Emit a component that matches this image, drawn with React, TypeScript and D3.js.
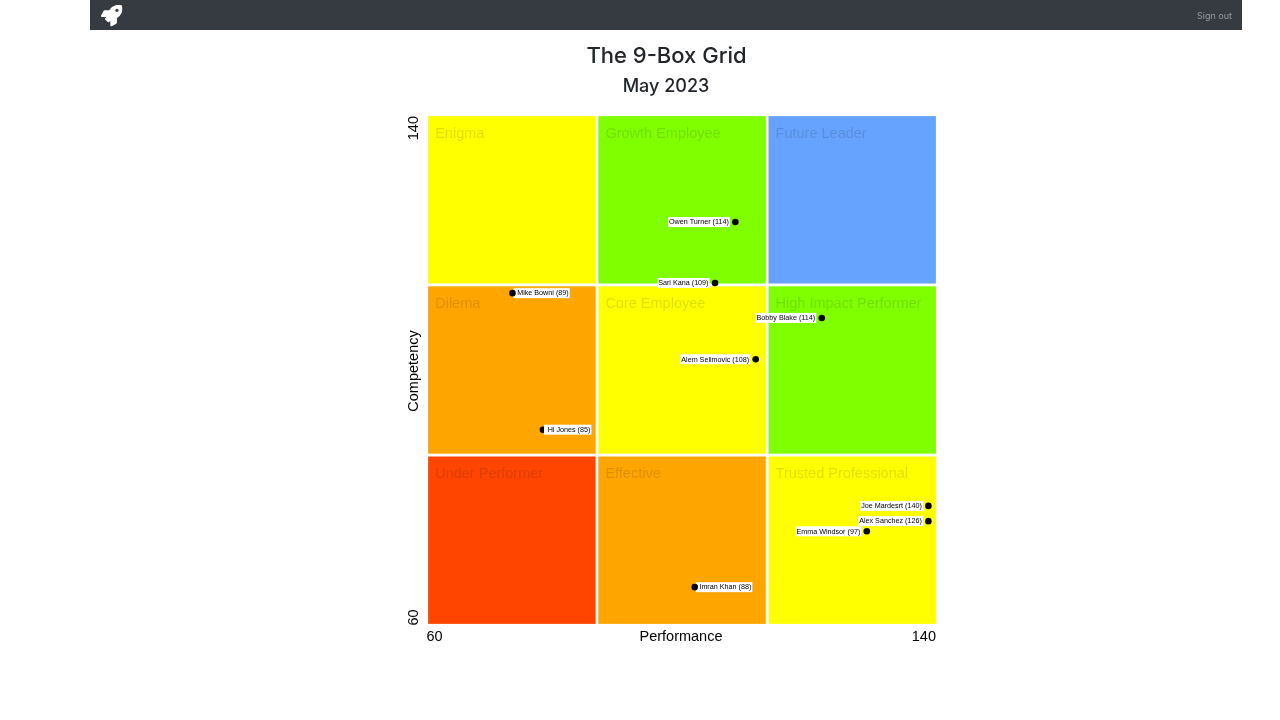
import React from "react";
import * as d3 from "d3";

const boxNames = ["Enigma", "Growth Employee", "Future Leader", "Dilema", "Core Employee", "High Impact Performer", "Under Performer", "Effective", "Trusted Professional"];
const boxColors = ["#ffff00", "#7fff00", "#66a3ff", "#ffa500", "#ffff00", "#7fff00", "#ff4500", "#ffa500", "#ffff00"];
const employees = ["Owen Turner (114)", "Sari Kana (109)", "Mike Bowni (89)", "Hi Jones (85)", "Alem Selimovic (108)", "Bobby Blake (114)", "Joe Mardesrt (140)", "Alex Sanchez (126)", "Emma Windsor (97)", "Imran Khan (88)"];
const performance = [108.4, 105.2, 73.3, 78.1, 111.6, 122, 138.8, 138.8, 129.1, 102];
const competency = [123.3, 113.7, 112.1, 90.6, 101.7, 108.2, 78.6, 76.2, 74.6, 65.8];
const labelsOnRight = ["Mike Bowni (89)", "Hi Jones (85)", "Imran Khan (88)"];
const labelsOverPoint = ["Hi Jones (85)"];
const domain = [60, 140];

const x = d3.scaleLinear().domain(domain).range([428, 936]);
const y = d3.scaleLinear().domain(domain).range([624, 116]);
const col = d3.scaleBand<number>().domain([0, 1, 2]).range([426.7, 937.3]);
const row = d3.scaleBand<number>().domain([0, 1, 2]).range([114.7, 625.3]);

const SANS = "'Liberation Sans', Arial, sans-serif";
const ROCKET = "M505.12 19.094c-1.189-5.53-6.68-11.021-12.21-12.21C460.716 0 435.507 0 410.407 0 307.175 0 245.269 55.2 199.052 128H94.838c-16.348.016-35.625 11.932-42.961 26.537L2.482 253.29A24 24 0 0 0 24.012 288h103.535l-22.417 22.417c-11.329 11.329-12.95 32.192 0 45.14l50.912 50.913c11.125 11.125 31.975 13.165 45.14 0L224 383.053V487.986a24 24 0 0 0 34.709 21.53l98.7-49.366c14.62-7.319 26.555-26.596 26.555-42.96V312.79C456.573 266.453 512 204.322 512 101.6c.028-25.2.028-50.4-6.88-82.506zM384 168a40 40 0 1 1 40-40 40 40 0 0 1-40 40z";

function Employee({ i }: { i: number }) {
  const name = employees[i];
  const cx = x(performance[i]);
  const cy = y(competency[i]);
  const right = labelsOnRight.includes(name);
  const over = labelsOverPoint.includes(name);
  const ref = React.useRef<SVGTextElement>(null);
  const [w, setW] = React.useState(0);
  React.useLayoutEffect(() => {
    if (ref.current) setW(ref.current.getComputedTextLength());
  }, []);
  const tx = right ? cx + 4.7 : cx - 6.5;
  const rx = right ? tx - 3.6 : tx - w - 1;
  const rw = right ? w + 4.6 : w + 2;
  const dot = <circle cx={cx} cy={cy} r={3.3} fill="#000" />;
  return (
    <g>
      {over && dot}
      <rect x={rx} y={cy - 5} width={rw} height={10} fill="#fff" />
      <text ref={ref} x={tx} y={cy + 2.3} fontFamily={SANS} fontSize={7.2} textAnchor={right ? "start" : "end"} fill="#000">{name}</text>
      {!over && dot}
    </g>
  );
}

export default function App() {
  return (
    <svg width={1280} height={720} style={{ position: "absolute", left: 0, top: 0 }}>
      <defs>
        <filter id="soft" x="0" y="0" width="1280" height="720" filterUnits="userSpaceOnUse">
          <feGaussianBlur stdDeviation="0.35" />
        </filter>
      </defs>
      <rect width={1280} height={720} fill="#fff" />
      <g filter="url(#soft)">
        <rect x={90} y={0} width={1152} height={30} fill="#343a40" />
        <path d={ROCKET} fill="#fff" transform="translate(101,5) scale(0.0415)" />
        <text x={1232} y={19} textAnchor="end" fontFamily="Inter, sans-serif" fontSize={9} fill="#9a9da1">Sign out</text>

        <text x={666.5} y={63} textAnchor="middle" fontFamily="Inter, sans-serif" fontWeight={500} fontSize={22} fill="#212529">The 9-Box Grid</text>
        <text x={666} y={92} textAnchor="middle" fontFamily="Inter, sans-serif" fontWeight={500} fontSize={18} fill="#212529">May 2023</text>

        {boxNames.map((name, k) => {
          const c = k % 3;
          const r = Math.floor(k / 3);
          const bx = col(c)!;
          const by = row(r)!;
          return (
            <g key={name}>
              <rect x={bx + 1.4} y={by + 1.4} width={col.bandwidth() - 2.8} height={row.bandwidth() - 2.8} fill={boxColors[k]} />
              <text x={bx + 8.5} y={by + 23} fontFamily={SANS} fontSize={14.5} fill="#000" fillOpacity={0.13}>{name}</text>
            </g>
          );
        })}

        {employees.map((_, i) => <Employee key={i} i={i} />)}

        <text x={x(domain[0]) - 1.5} y={641} fontFamily={SANS} fontSize={14.5} fill="#000">{domain[0]}</text>
        <text x={x(domain[1])} y={641} textAnchor="end" fontFamily={SANS} fontSize={14.5} fill="#000">{domain[1]}</text>
        <text x={(x(domain[0]) + x(domain[1])) / 2 - 1} y={641} textAnchor="middle" fontFamily={SANS} fontSize={14.5} fill="#000">Performance</text>

        <text transform={`translate(418,${y(domain[1])}) rotate(-90)`} textAnchor="end" fontFamily={SANS} fontSize={14.5} fill="#000">{domain[1]}</text>
        <text transform={`translate(418,${y(domain[0]) + 1.5}) rotate(-90)`} textAnchor="start" fontFamily={SANS} fontSize={14.5} fill="#000">{domain[0]}</text>
        <text transform={`translate(418,${(y(domain[0]) + y(domain[1])) / 2 + 1}) rotate(-90)`} textAnchor="middle" fontFamily={SANS} fontSize={14.5} fill="#000">Competency</text>
      </g>
    </svg>
  );
}
